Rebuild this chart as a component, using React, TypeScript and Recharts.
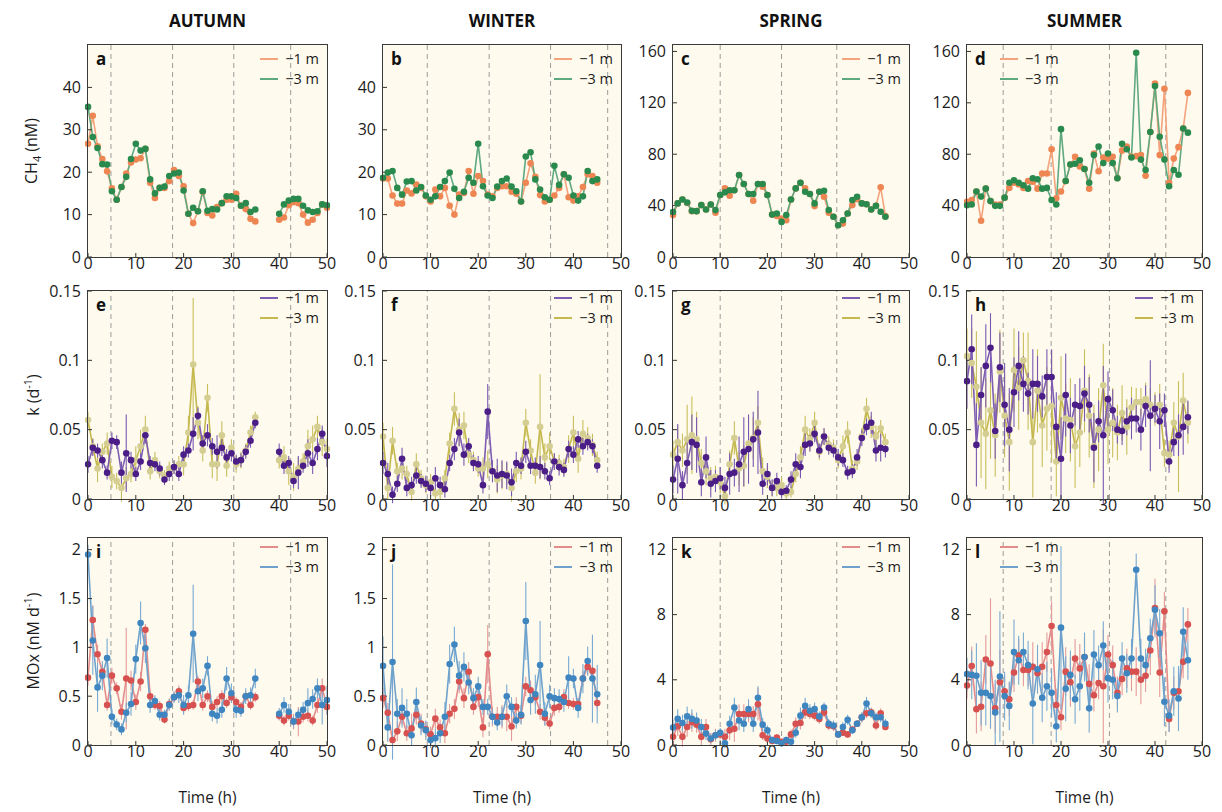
import React from "react";
import { LineChart, Line, XAxis, YAxis, ReferenceLine, ErrorBar } from "recharts";

const FONT = '"Open Sans", "Liberation Sans", sans-serif';

// ---- time axes (h) ----
const timeAutumn = [
  0, 1, 2, 3, 4, 5, 6, 7, 8, 9,
  10, 11, 12, 13, 14, 15, 16, 17, 18, 19,
  20, 21, 22, 23, 24, 25, 26, 27, 28, 29,
  30, 31, 32, 33, 34, 35, 36, 37, 38, 39,
  40, 41, 42, 43, 44, 45, 46, 47, 48, 49, 50,
];
const timeWinter = [
  0, 1, 2, 3, 4, 5, 6, 7, 8, 9,
  10, 11, 12, 13, 14, 15, 16, 17, 18, 19,
  20, 21, 22, 23, 24, 25, 26, 27, 28, 29,
  30, 31, 32, 33, 34, 35, 36, 37, 38, 39,
  40, 41, 42, 43, 44, 45,
];
const timeSpring = [
  0, 1, 2, 3, 4, 5, 6, 7, 8, 9,
  10, 11, 12, 13, 14, 15, 16, 17, 18, 19,
  20, 21, 22, 23, 24, 25, 26, 27, 28, 29,
  30, 31, 32, 33, 34, 35, 36, 37, 38, 39,
  40, 41, 42, 43, 44, 45,
];
const timeSummer = [
  0, 1, 2, 3, 4, 5, 6, 7, 8, 9,
  10, 11, 12, 13, 14, 15, 16, 17, 18, 19,
  20, 21, 22, 23, 24, 25, 26, 27, 28, 29,
  30, 31, 32, 33, 34, 35, 36, 37, 38, 39,
  40, 41, 42, 43, 44, 45, 46, 47,
];

// dashed day/night dividers
const divAutumn = [4.8, 17.7, 30.5, 42.4];
const divWinter = [9.3, 22.3, 35.2, 47.2];
const divSpring = [10, 23, 34.7];
const divSummer = [7.7, 17.9, 30.3, 42.3];

// ---- CH4 (nM) ----
const ch4Autumn1 = [
  26.7, 33.3, 26.1, 23.1, 20.2, 16.2, 13.5, 16.5, 19.7, 22.3,
  23.0, 23.3, 25.5, 17.5, 13.9, 16.3, 16.3, 17.9, 20.5, 19.1,
  16.7, 10.2, 8.0, 10.8, 15.4, 10.4, 9.8, 11.8, 12.7, 13.5,
  13.5, 14.9, 12.1, 11.3, 9.0, 8.4, null, null, null, null,
  8.8, 9.3, 12.2, 12.9, 12.7, 10.0, 8.1, 8.8, 10.4, 12.4, 11.6,
];
const ch4Autumn3 = [
  35.4, 28.3, 25.7, 21.9, 21.8, 15.5, 13.5, 16.5, 18.9, 23.1,
  26.7, 25.1, 25.5, 18.3, 15.0, 16.3, 16.6, 19.1, 19.7, 19.9,
  15.7, 10.2, 11.6, 10.8, 15.5, 10.9, 11.3, 11.2, 12.7, 14.3,
  14.3, 13.9, 12.1, 12.7, 10.6, 11.2, null, null, null, null,
  10.2, 12.4, 13.3, 13.7, 13.7, 12.1, 11.0, 10.6, 10.8, 12.4, 12.2,
];
const ch4Winter1 = [
  18.5, 18.5, 14.5, 12.6, 12.6, 15.7, 15.0, 17.1, 16.3, 14.3,
  13.1, 15.9, 14.3, 16.3, 12.1, 10.0, 14.7, 15.1, 20.3, 14.9,
  19.1, 17.9, 14.7, 14.3, 16.3, 16.7, 16.7, 15.4, 14.9, 13.1,
  17.5, 22.1, 18.9, 14.6, 13.1, 13.5, 14.5, 16.3, 19.5, 14.1,
  13.3, 14.3, 16.5, 19.5, 19.1, 17.5,
];
const ch4Winter3 = [
  18.7, 19.9, 20.3, 16.3, 14.7, 17.8, 17.9, 15.7, 16.5, 14.5,
  13.5, 14.3, 16.5, 17.9, 19.9, 16.1, 13.9, 15.4, 18.7, 17.5,
  26.7, 16.7, 14.5, 13.9, 16.6, 17.9, 18.5, 16.6, 15.5, 13.1,
  23.7, 24.7, 18.3, 15.9, 14.1, 13.5, 21.5, 17.0, 19.5, 18.7,
  14.5, 13.3, 14.3, 20.3, 17.9, 18.3,
];
const ch4Spring1 = [
  32.6, 41.7, 44.8, 42.0, 35.7, 35.7, 40.4, 37.0, 40.9, 34.5,
  48.2, 53.4, 47.7, 52.0, 63.8, 56.8, 49.0, 43.8, 56.8, 54.7,
  48.2, 33.0, 32.0, 29.9, 28.6, 44.8, 53.4, 57.8, 53.4, 49.0,
  39.6, 50.8, 46.9, 34.5, 31.3, 24.7, 26.0, 33.9, 40.4, 45.0,
  41.7, 41.1, 37.0, 39.8, 54.2, 31.8,
];
const ch4Spring3 = [
  35.0, 41.7, 44.8, 42.4, 35.9, 35.7, 40.4, 37.0, 40.9, 36.5,
  48.2, 50.3, 52.0, 52.0, 63.8, 56.8, 49.0, 49.0, 56.8, 56.8,
  48.2, 33.0, 33.9, 27.3, 32.6, 44.8, 53.4, 57.8, 50.8, 49.0,
  41.7, 50.8, 51.6, 36.5, 31.3, 24.7, 28.6, 33.9, 44.3, 46.9,
  41.7, 41.1, 37.0, 39.8, 35.2, 31.3,
];
const ch4Summer1 = [
  43.0, 44.4, 51.0, 28.2, 53.2, 43.5, 40.9, 40.9, 46.2, 53.8,
  57.8, 56.5, 53.8, 59.1, 58.6, 53.2, 65.0, 65.0, 83.9, 45.7,
  51.0, 59.1, 72.0, 78.0, 70.4, 68.5, 53.2, 80.6, 66.7, 77.4,
  76.6, 78.0, 61.3, 82.8, 86.0, 78.0, 78.5, 79.3, 63.2, 97.3,
  135.0, 79.3, 131.0, 57.8, 76.6, 85.5, 100.0, 127.7,
];
const ch4Summer3 = [
  40.3, 40.9, 51.0, 47.0, 53.2, 43.5, 39.8, 39.8, 46.2, 57.8,
  59.7, 57.8, 55.9, 53.2, 61.3, 60.5, 53.2, 53.8, 44.4, 40.9,
  99.5, 59.1, 72.0, 72.6, 75.3, 68.5, 57.8, 79.3, 86.0, 73.1,
  80.6, 73.1, 61.3, 88.2, 83.9, 77.4, 159.0, 75.8, 67.7, 97.3,
  133.0, 93.5, 75.8, 55.1, 67.7, 64.0, 100.0, 96.8,
];

// ---- k (d-1) ----
const kAutumn1 = [
  0.025, 0.037, 0.035, 0.028, 0.019, 0.042, 0.041, 0.019, 0.033, 0.028,
  0.018, 0.027, 0.046, 0.026, 0.025, 0.022, 0.014, 0.018, 0.023, 0.018,
  0.032, 0.035, 0.047, 0.060, 0.040, 0.046, 0.038, 0.034, 0.037, 0.030,
  0.033, 0.027, 0.028, 0.034, 0.042, 0.055, null, null, null, null,
  0.034, 0.024, 0.026, 0.013, 0.019, 0.024, 0.033, 0.026, 0.036, 0.047, 0.031,
];
const kAutumn1Err = [
  0.006, 0.006, 0.005, 0.006, 0.005, 0.006, 0.005, 0.008, 0.028, 0.006,
  0.005, 0.006, 0.006, 0.005, 0.005, 0.005, 0.004, 0.005, 0.005, 0.005,
  0.006, 0.005, 0.012, 0.006, 0.006, 0.008, 0.006, 0.012, 0.006, 0.006,
  0.006, 0.005, 0.005, 0.005, 0.005, 0.004, null, null, null, null,
  0.006, 0.006, 0.005, 0.005, 0.012, 0.005, 0.010, 0.008, 0.008, 0.006, 0.008,
];
const kAutumn3 = [
  0.057, 0.038, 0.022, 0.034, 0.040, 0.016, 0.013, 0.008, 0.015, 0.018,
  0.028, 0.038, 0.050, 0.020, 0.028, 0.020, 0.017, 0.022, 0.023, 0.025,
  0.025, 0.048, 0.097, 0.055, 0.035, 0.073, 0.025, 0.025, 0.046, 0.024,
  0.037, 0.025, 0.028, 0.035, 0.048, 0.059, null, null, null, null,
  0.028, 0.030, 0.020, 0.016, 0.022, 0.027, 0.038, 0.043, 0.052, 0.041, 0.036,
];
const kAutumn3Err = [
  0.006, 0.006, 0.010, 0.006, 0.008, 0.008, 0.006, 0.010, 0.008, 0.006,
  0.010, 0.012, 0.010, 0.006, 0.006, 0.005, 0.004, 0.005, 0.005, 0.006,
  0.008, 0.012, 0.048, 0.012, 0.008, 0.010, 0.010, 0.012, 0.010, 0.008,
  0.006, 0.006, 0.006, 0.005, 0.005, 0.004, null, null, null, null,
  0.006, 0.008, 0.010, 0.010, 0.008, 0.006, 0.012, 0.010, 0.008, 0.010, 0.008,
];
const kWinter1 = [
  0.026, 0.018, 0.003, 0.011, 0.029, 0.008, 0.010, 0.017, 0.013, 0.011,
  0.008, 0.015, 0.010, 0.007, 0.026, 0.036, 0.048, 0.032, 0.038, 0.026,
  0.025, 0.010, 0.063, 0.020, 0.017, 0.018, 0.017, 0.012, 0.026, 0.024,
  0.034, 0.024, 0.024, 0.023, 0.020, 0.015, 0.027, 0.023, 0.021, 0.036,
  0.032, 0.043, 0.038, 0.041, 0.038, 0.024,
];
const kWinter1Err = [
  0.008, 0.008, 0.006, 0.006, 0.008, 0.006, 0.006, 0.006, 0.005, 0.006,
  0.006, 0.008, 0.006, 0.006, 0.006, 0.008, 0.010, 0.008, 0.006, 0.006,
  0.006, 0.006, 0.020, 0.008, 0.012, 0.010, 0.010, 0.010, 0.008, 0.006,
  0.008, 0.006, 0.006, 0.008, 0.006, 0.005, 0.006, 0.006, 0.005, 0.006,
  0.006, 0.006, 0.006, 0.006, 0.005, 0.005,
];
const kWinter3 = [
  0.045, 0.008, 0.042, 0.020, 0.022, 0.018, 0.005, 0.025, 0.015, 0.010,
  0.012, 0.004, 0.005, 0.015, 0.040, 0.065, 0.050, 0.053, 0.032, 0.028,
  0.022, 0.022, 0.025, 0.020, 0.014, 0.017, 0.018, 0.008, 0.020, 0.022,
  0.055, 0.035, 0.019, 0.052, 0.030, 0.038, 0.027, 0.026, 0.023, 0.036,
  0.048, 0.029, 0.047, 0.044, 0.039, 0.028,
];
const kWinter3Err = [
  0.010, 0.008, 0.010, 0.006, 0.008, 0.006, 0.006, 0.008, 0.006, 0.006,
  0.006, 0.004, 0.005, 0.006, 0.008, 0.012, 0.012, 0.010, 0.006, 0.006,
  0.006, 0.008, 0.010, 0.006, 0.010, 0.010, 0.008, 0.010, 0.008, 0.008,
  0.010, 0.008, 0.008, 0.038, 0.010, 0.010, 0.006, 0.006, 0.006, 0.010,
  0.012, 0.010, 0.010, 0.008, 0.008, 0.006,
];
const kSpring1 = [
  0.014, 0.029, 0.010, 0.026, 0.041, 0.039, 0.012, 0.030, 0.011, 0.013,
  0.015, 0.008, 0.018, 0.019, 0.025, 0.034, 0.036, 0.043, 0.048, 0.011,
  0.018, 0.008, 0.013, 0.005, 0.006, 0.014, 0.025, 0.023, 0.039, 0.040,
  0.047, 0.035, 0.045, 0.037, 0.035, 0.030, 0.028, 0.019, 0.020, 0.030,
  0.044, 0.052, 0.055, 0.035, 0.037, 0.036,
];
const kSpring1Err = [
  0.010, 0.025, 0.010, 0.015, 0.020, 0.020, 0.010, 0.015, 0.010, 0.008,
  0.008, 0.008, 0.015, 0.010, 0.020, 0.025, 0.025, 0.020, 0.030, 0.008,
  0.008, 0.006, 0.006, 0.004, 0.004, 0.006, 0.008, 0.008, 0.008, 0.006,
  0.006, 0.005, 0.006, 0.005, 0.005, 0.006, 0.005, 0.005, 0.005, 0.006,
  0.006, 0.006, 0.008, 0.008, 0.010, 0.006,
];
const kSpring3 = [
  0.032, 0.041, 0.035, 0.043, 0.046, 0.043, 0.026, 0.020, 0.015, 0.016,
  0.012, 0.002, 0.025, 0.044, 0.022, 0.024, 0.040, 0.044, 0.055, 0.020,
  0.016, 0.008, 0.008, 0.010, 0.004, 0.005, 0.018, 0.030, 0.050, 0.043,
  0.055, 0.034, 0.045, 0.039, 0.037, 0.028, 0.038, 0.048, 0.022, 0.027,
  0.045, 0.065, 0.052, 0.045, 0.051, 0.041,
];
const kSpring3Err = [
  0.010, 0.012, 0.012, 0.025, 0.028, 0.020, 0.010, 0.010, 0.008, 0.008,
  0.008, 0.006, 0.010, 0.012, 0.012, 0.015, 0.020, 0.015, 0.012, 0.010,
  0.008, 0.006, 0.006, 0.006, 0.004, 0.004, 0.006, 0.008, 0.010, 0.008,
  0.008, 0.006, 0.006, 0.006, 0.006, 0.006, 0.008, 0.008, 0.006, 0.006,
  0.006, 0.008, 0.008, 0.008, 0.006, 0.006,
];
const kSummer1 = [
  0.085, 0.108, 0.039, 0.075, 0.096, 0.109, 0.049, 0.095, 0.068, 0.050,
  0.077, 0.096, 0.083, 0.076, 0.083, 0.083, 0.074, 0.088, 0.088, 0.052,
  0.029, 0.075, 0.053, 0.068, 0.067, 0.076, 0.068, 0.037, 0.056, 0.046,
  0.072, 0.064, 0.050, 0.049, 0.056, 0.058, 0.058, 0.050, 0.067, 0.060,
  0.065, 0.056, 0.064, 0.027, 0.041, 0.046, 0.052, 0.059,
];
const kSummer1Err = [
  0.020, 0.025, 0.030, 0.020, 0.030, 0.025, 0.020, 0.025, 0.030, 0.030,
  0.025, 0.025, 0.020, 0.015, 0.025, 0.020, 0.015, 0.020, 0.020, 0.025,
  0.030, 0.030, 0.020, 0.015, 0.020, 0.020, 0.020, 0.025, 0.015, 0.050,
  0.020, 0.015, 0.010, 0.010, 0.010, 0.015, 0.010, 0.015, 0.015, 0.040,
  0.010, 0.020, 0.012, 0.008, 0.010, 0.015, 0.020, 0.012,
];
const kSummer3 = [
  0.103, 0.098, 0.081, 0.055, 0.047, 0.064, 0.046, 0.092, 0.060, 0.041,
  0.093, 0.080, 0.100, 0.085, 0.041, 0.078, 0.053, 0.065, 0.067, 0.027,
  0.073, 0.058, 0.057, 0.038, 0.048, 0.078, 0.060, 0.038, 0.050, 0.082,
  0.050, 0.055, 0.048, 0.062, 0.052, 0.066, 0.070, 0.070, 0.072, 0.068,
  0.065, 0.068, 0.033, 0.032, 0.055, 0.045, 0.071, 0.055,
];
const kSummer3Err = [
  0.020, 0.025, 0.040, 0.040, 0.040, 0.035, 0.030, 0.030, 0.030, 0.035,
  0.030, 0.030, 0.020, 0.035, 0.040, 0.030, 0.030, 0.030, 0.040, 0.025,
  0.030, 0.025, 0.030, 0.030, 0.025, 0.030, 0.030, 0.030, 0.030, 0.030,
  0.025, 0.025, 0.020, 0.020, 0.020, 0.015, 0.010, 0.010, 0.012, 0.012,
  0.012, 0.015, 0.010, 0.010, 0.015, 0.040, 0.020, 0.015,
];

// ---- MOx (nM d-1) ----
const moxAutumn1 = [
  0.69, 1.28, 0.93, 0.75, 0.41, 0.71, 0.58, 0.34, 0.68, 0.66,
  0.44, 0.65, 1.18, 0.50, 0.41, 0.40, 0.26, 0.42, 0.49, 0.55,
  0.38, 0.40, 0.41, 0.65, 0.41, 0.50, 0.39, 0.44, 0.50, 0.43,
  0.49, 0.44, 0.39, 0.50, 0.41, 0.49, null, null, null, null,
  0.30, 0.25, 0.30, 0.24, 0.24, 0.29, 0.30, 0.25, 0.41, 0.58, 0.39,
];
const moxAutumn1Err = [
  0.08, 0.15, 0.10, 0.08, 0.06, 0.08, 0.06, 0.08, 0.52, 0.10,
  0.08, 0.10, 0.06, 0.06, 0.05, 0.05, 0.04, 0.06, 0.05, 0.06,
  0.05, 0.05, 0.05, 0.06, 0.06, 0.06, 0.06, 0.06, 0.06, 0.05,
  0.06, 0.05, 0.05, 0.05, 0.05, 0.05, null, null, null, null,
  0.05, 0.05, 0.05, 0.08, 0.15, 0.06, 0.06, 0.05, 0.08, 0.10, 0.08,
];
const moxAutumn3 = [
  1.95, 1.07, 0.59, 0.71, 0.89, 0.29, 0.21, 0.16, 0.33, 0.42,
  0.88, 1.25, 0.99, 0.41, 0.45, 0.31, 0.31, 0.41, 0.49, 0.51,
  0.41, 0.51, 1.14, 0.55, 0.58, 0.81, 0.32, 0.30, 0.36, 0.68,
  0.53, 0.36, 0.35, 0.50, 0.51, 0.68, null, null, null, null,
  0.32, 0.41, 0.34, 0.24, 0.31, 0.36, 0.43, 0.47, 0.58, 0.41, 0.46,
];
const moxAutumn3Err = [
  0.10, 0.35, 0.25, 0.15, 0.20, 0.08, 0.06, 0.06, 0.10, 0.12,
  0.15, 0.22, 0.15, 0.08, 0.06, 0.06, 0.05, 0.06, 0.06, 0.08,
  0.10, 0.10, 0.50, 0.10, 0.10, 0.10, 0.08, 0.08, 0.08, 0.12,
  0.10, 0.08, 0.06, 0.08, 0.08, 0.10, null, null, null, null,
  0.06, 0.08, 0.08, 0.06, 0.06, 0.08, 0.15, 0.10, 0.10, 0.20, 0.15,
];
const moxWinter1 = [
  0.48, 0.33, 0.05, 0.14, 0.29, 0.12, 0.17, 0.31, 0.22, 0.16,
  0.11, 0.27, 0.18, 0.12, 0.32, 0.37, 0.65, 0.48, 0.75, 0.39,
  0.49, 0.18, 0.93, 0.29, 0.29, 0.29, 0.29, 0.19, 0.39, 0.30,
  0.60, 0.56, 0.49, 0.34, 0.28, 0.22, 0.38, 0.39, 0.49, 0.43,
  0.42, 0.42, 0.68, 0.80, 0.76, 0.43,
];
const moxWinter1Err = [
  0.10, 0.10, 0.06, 0.10, 0.08, 0.08, 0.15, 0.10, 0.10, 0.08,
  0.08, 0.10, 0.08, 0.10, 0.10, 0.10, 0.12, 0.10, 0.10, 0.08,
  0.10, 0.10, 0.30, 0.10, 0.10, 0.12, 0.15, 0.15, 0.10, 0.08,
  0.10, 0.10, 0.08, 0.08, 0.08, 0.06, 0.08, 0.06, 0.08, 0.06,
  0.06, 0.06, 0.08, 0.08, 0.08, 0.06,
];
const moxWinter3 = [
  0.81, 0.18, 0.85, 0.32, 0.38, 0.32, 0.10, 0.44, 0.20, 0.15,
  0.05, 0.07, 0.12, 0.29, 0.83, 1.03, 0.71, 0.80, 0.64, 0.48,
  0.60, 0.39, 0.39, 0.29, 0.23, 0.29, 0.50, 0.39, 0.25, 0.31,
  1.27, 0.46, 0.52, 0.82, 0.32, 0.50, 0.48, 0.47, 0.44, 0.69,
  0.68, 0.38, 0.68, 0.86, 0.68, 0.52,
];
const moxWinter3Err = [
  0.30, 0.15, 1.00, 0.15, 0.20, 0.15, 0.10, 0.15, 0.10, 0.10,
  0.08, 0.10, 0.10, 0.15, 0.20, 0.18, 0.15, 0.15, 0.12, 0.10,
  0.10, 0.08, 0.08, 0.08, 0.08, 0.10, 0.12, 0.10, 0.08, 0.10,
  0.40, 0.15, 0.20, 0.45, 0.12, 0.12, 0.10, 0.10, 0.10, 0.22,
  0.10, 0.10, 0.15, 0.15, 0.45, 0.30,
];
const moxSpring1 = [
  0.5, 1.15, 0.5, 1.1, 1.4, 1.25, 0.5, 1.1, 0.35, 0.6,
  0.65, 0.5, 0.9, 1.0, 1.9, 1.9, 1.9, 1.9, 2.5, 0.6,
  0.4, 0.25, 0.45, 0.2, 0.2, 0.65, 1.3, 1.35, 2.0, 1.9,
  1.8, 1.6, 2.0, 1.2, 1.15, 0.65, 0.75, 0.65, 0.95, 1.3,
  1.7, 1.95, 2.0, 1.2, 1.95, 1.1,
];
const moxSpring1Err = [
  0.5, 0.6, 0.6, 0.6, 0.6, 0.5, 0.5, 0.5, 0.4, 0.4,
  0.3, 0.5, 0.6, 0.8, 0.6, 0.6, 0.5, 0.5, 1.0, 0.3,
  0.3, 0.2, 0.2, 0.2, 0.2, 0.3, 0.4, 0.4, 0.4, 0.3,
  0.3, 0.3, 0.3, 0.3, 0.3, 0.2, 0.2, 0.2, 0.2, 0.2,
  0.3, 0.3, 0.3, 0.3, 0.3, 0.2,
];
const moxSpring3 = [
  1.07, 1.6, 1.35, 1.76, 1.6, 1.5, 1.1, 0.7, 0.4, 0.6,
  0.75, 0.1, 1.3, 2.3, 1.5, 1.3, 2.2, 1.3, 2.9, 1.25,
  0.9, 0.3, 0.25, 0.1, 0.3, 0.2, 0.75, 1.8, 2.4, 2.1,
  2.2, 1.75, 2.3, 1.3, 1.2, 0.65, 1.1, 1.55, 0.9, 1.3,
  1.7, 2.55, 1.95, 1.7, 1.7, 1.3,
];
const moxSpring3Err = [
  0.5, 0.6, 0.5, 0.6, 0.6, 0.5, 0.5, 0.4, 0.3, 0.3,
  0.3, 0.3, 0.5, 0.6, 0.6, 0.5, 0.6, 0.5, 0.7, 0.4,
  0.3, 0.2, 0.2, 0.2, 0.2, 0.2, 0.3, 0.5, 0.5, 0.4,
  0.4, 0.3, 0.3, 0.3, 0.3, 0.2, 0.3, 0.3, 0.2, 0.2,
  0.3, 0.4, 0.3, 0.3, 0.3, 0.3,
];
const moxSummer1 = [
  3.65, 4.85, 2.2, 2.35, 5.25, 5.0, 2.25, 3.85, 3.3, 2.8,
  4.45, 5.5, 4.6, 4.6, 4.8, 4.4, 4.8, 5.7, 7.3, 2.45,
  1.7, 4.5, 3.85, 5.3, 4.7, 5.4, 3.75, 3.05, 3.8, 3.6,
  5.55, 4.9, 3.2, 4.05, 4.7, 4.5, 4.5, 4.0, 4.25, 5.8,
  8.4, 4.45, 8.2, 1.6, 3.2, 3.3, 5.1, 7.4,
];
const moxSummer1Err = [
  0.8, 1.2, 1.5, 1.5, 1.5, 4.0, 1.5, 2.0, 1.0, 1.0,
  1.2, 1.0, 1.0, 1.0, 1.5, 1.2, 1.5, 1.2, 1.5, 1.0,
  0.8, 1.5, 1.5, 1.2, 1.5, 1.2, 1.2, 1.0, 1.0, 3.5,
  1.2, 1.2, 1.0, 1.0, 1.2, 1.2, 1.5, 1.5, 1.0, 1.5,
  1.8, 1.5, 1.2, 0.8, 1.0, 1.0, 1.0, 1.0,
];
const moxSummer3 = [
  4.35, 4.3, 4.25, 3.2, 3.2, 3.0, 2.0, 4.2, 3.0, 2.4,
  5.7, 5.2, 5.7, 4.9, 2.55, 4.65, 2.9, 3.6, 3.2, 1.15,
  7.2, 3.45, 4.3, 2.8, 3.6, 5.4, 2.25, 5.55, 4.9, 6.1,
  4.1, 4.0, 3.0, 5.3, 4.4, 5.3, 10.75, 5.3, 4.9, 6.55,
  8.3, 6.85, 2.65, 1.8, 3.3, 2.85, 6.95, 5.2,
];
const moxSummer3Err = [
  1.0, 1.5, 2.0, 2.0, 2.0, 2.0, 2.0, 4.0, 1.5, 1.5,
  2.0, 1.5, 1.2, 1.5, 2.5, 1.5, 1.5, 1.5, 1.5, 1.0,
  5.0, 2.0, 1.5, 1.5, 1.5, 1.5, 1.5, 1.5, 1.2, 1.5,
  1.5, 1.2, 1.0, 1.0, 1.2, 1.2, 1.0, 1.2, 1.0, 1.2,
  1.5, 1.5, 1.5, 1.0, 1.5, 2.0, 1.5, 1.2,
];

// ---- axes ----
const xTicks = [0, 10, 20, 30, 40, 50];
const ticksCh4Low = [0, 10, 20, 30, 40];
const ticksCh4High = [0, 40, 80, 120, 160];
const ticksK = [0, 0.05, 0.1, 0.15];
const ticksMoxLow = [0, 0.5, 1, 1.5, 2];
const ticksMoxHigh = [0, 4, 8, 12];

const seasons = ["AUTUMN", "WINTER", "SPRING", "SUMMER"];
const legendLabels = ["\u22121 m", "\u22123 m"];

// ---- layout ----
const COLS = [
  { left: 88, right: 327 },
  { left: 383, right: 621 },
  { left: 673, right: 909 },
  { left: 967, right: 1202 },
];
const ROWS = [
  { top: 45, bottom: 257, legendY: 49 },
  { top: 291, bottom: 499, legendY: 288 },
  { top: 538, bottom: 745, legendY: 537 },
];
const STYLES = [
  {
    s1: { line: "#F4A37C", dot: "#EE8653", err: "#F4A37C" },
    s3: { line: "#5FA97F", dot: "#2A8A4E", err: "#5FA97F" },
    topFirst: false,
  },
  {
    s1: { line: "#7E5DB3", dot: "#4B1E87", err: "#7A58B2" },
    s3: { line: "#C5B84E", dot: "#D5CE92", err: "#C9BE5C" },
    topFirst: true,
  },
  {
    s1: { line: "#E48C8C", dot: "#D6514F", err: "#E49A9A" },
    s3: { line: "#6EA2CD", dot: "#3F86C0", err: "#79A9D2" },
    topFirst: false,
  },
];

const panels = [
  { row: 0, col: 0, letter: "a", times: timeAutumn, s1: ch4Autumn1, s3: ch4Autumn3, yDomain: [0, 50], yTicks: ticksCh4Low, divs: divAutumn },
  { row: 0, col: 1, letter: "b", times: timeWinter, s1: ch4Winter1, s3: ch4Winter3, yDomain: [0, 50], yTicks: ticksCh4Low, divs: divWinter },
  { row: 0, col: 2, letter: "c", times: timeSpring, s1: ch4Spring1, s3: ch4Spring3, yDomain: [0, 165], yTicks: ticksCh4High, divs: divSpring },
  { row: 0, col: 3, letter: "d", times: timeSummer, s1: ch4Summer1, s3: ch4Summer3, yDomain: [0, 165], yTicks: ticksCh4High, divs: divSummer, legendLeft: true },
  { row: 1, col: 0, letter: "e", times: timeAutumn, s1: kAutumn1, s3: kAutumn3, e1: kAutumn1Err, e3: kAutumn3Err, yDomain: [0, 0.15], yTicks: ticksK, divs: divAutumn },
  { row: 1, col: 1, letter: "f", times: timeWinter, s1: kWinter1, s3: kWinter3, e1: kWinter1Err, e3: kWinter3Err, yDomain: [0, 0.15], yTicks: ticksK, divs: divWinter },
  { row: 1, col: 2, letter: "g", times: timeSpring, s1: kSpring1, s3: kSpring3, e1: kSpring1Err, e3: kSpring3Err, yDomain: [0, 0.15], yTicks: ticksK, divs: divSpring },
  { row: 1, col: 3, letter: "h", times: timeSummer, s1: kSummer1, s3: kSummer3, e1: kSummer1Err, e3: kSummer3Err, yDomain: [0, 0.15], yTicks: ticksK, divs: divSummer },
  { row: 2, col: 0, letter: "i", times: timeAutumn, s1: moxAutumn1, s3: moxAutumn3, e1: moxAutumn1Err, e3: moxAutumn3Err, yDomain: [0, 2.12], yTicks: ticksMoxLow, divs: divAutumn },
  { row: 2, col: 1, letter: "j", times: timeWinter, s1: moxWinter1, s3: moxWinter3, e1: moxWinter1Err, e3: moxWinter3Err, yDomain: [0, 2.12], yTicks: ticksMoxLow, divs: divWinter },
  { row: 2, col: 2, letter: "k", times: timeSpring, s1: moxSpring1, s3: moxSpring3, e1: moxSpring1Err, e3: moxSpring3Err, yDomain: [0, 12.7], yTicks: ticksMoxHigh, divs: divSpring },
  { row: 2, col: 3, letter: "l", times: timeSummer, s1: moxSummer1, s3: moxSummer3, e1: moxSummer1Err, e3: moxSummer3Err, yDomain: [0, 12.7], yTicks: ticksMoxHigh, divs: divSummer, legendLeft: true },
];

const ML = 56;
const MR = 12;
const MT = 16;
const MB = 28;
const tickStyle = { fill: "#1c1c1c", fontSize: 16, fontFamily: FONT };

function Legend({ x, y, colors, alignLeft }) {
  return (
    <div style={{ position: "absolute", left: alignLeft ? x : x - 80, top: y, width: 80, fontSize: 14.5, lineHeight: "20px", color: "#1c1c1c" }}>
      {legendLabels.map((lab, i) => (
        <div key={lab} style={{ display: "flex", alignItems: "center", height: 20, justifyContent: alignLeft ? "flex-start" : "flex-end" }}>
          <span style={{ display: "inline-block", width: 18, height: 2.5, background: colors[i], marginRight: 7 }} />
          <span>{lab}</span>
        </div>
      ))}
    </div>
  );
}

function Panel({ p }) {
  const row = ROWS[p.row];
  const col = COLS[p.col];
  const st = STYLES[p.row];
  const pw = col.right - col.left;
  const ph = row.bottom - row.top;
  const data = p.times.map((t, i) => ({
    t,
    v1: p.s1[i],
    v3: p.s3[i],
    e1: p.e1 ? p.e1[i] : null,
    e3: p.e3 ? p.e3[i] : null,
  }));

  const mkLine = (key, errKey, c, hasErr) => (
    <Line
      key={key}
      type="linear"
      dataKey={key}
      stroke={c.line}
      strokeWidth={1.6}
      dot={{ r: 3.3, fill: c.dot, stroke: c.dot, strokeWidth: 0, clipDot: false }}
      activeDot={false}
      connectNulls={false}
      isAnimationActive={false}
    >
      {hasErr && (
        <ErrorBar dataKey={errKey} direction="y" width={0} stroke={c.err} strokeWidth={1.1} isAnimationActive={false} />
      )}
    </Line>
  );

  const hasErr = !!p.e1;
  const l1 = mkLine("v1", "e1", st.s1, hasErr);
  const l3 = mkLine("v3", "e3", st.s3, hasErr);
  const fmt = (v) => String(v);

  return (
    <>
      <div style={{ position: "absolute", left: col.left, top: row.top, width: pw, height: ph, background: "#FEFBEE" }} />
      <div style={{ position: "absolute", left: col.left - ML, top: row.top - MT }}>
        <LineChart width={pw + ML + MR} height={ph + MT + MB} data={data} margin={{ top: MT, right: MR, left: 0, bottom: 0 }}>
          <XAxis
            dataKey="t"
            type="number"
            domain={[0, 50]}
            ticks={xTicks}
            interval={0}
            height={MB}
            axisLine={false}
            tickLine={{ stroke: "#333" }}
            tickSize={-4}
            tickMargin={5}
            tick={tickStyle}
          />
          <YAxis
            type="number"
            domain={p.yDomain}
            ticks={p.yTicks}
            interval={0}
            width={ML}
            allowDataOverflow
            axisLine={false}
            tickLine={{ stroke: "#333" }}
            tickSize={-4}
            tickMargin={11}
            tick={tickStyle}
            tickFormatter={fmt}
          />
          {p.divs.map((d) => (
            <ReferenceLine key={d} x={d} stroke="#9b9b9b" strokeDasharray="5 4" strokeWidth={1} />
          ))}
          {st.topFirst ? l3 : l1}
          {st.topFirst ? l1 : l3}
        </LineChart>
      </div>
      <div
        style={{
          position: "absolute",
          left: col.left - 1,
          top: row.top - 1,
          width: pw + 2,
          height: ph + 2,
          border: "1.6px solid #3a3a3a",
          boxSizing: "border-box",
          pointerEvents: "none",
        }}
      />
      <div style={{ position: "absolute", left: col.left + 8, top: row.top + 2, fontSize: 17, fontWeight: 700, color: "#111" }}>
        {p.letter}
      </div>
      <Legend
        x={p.legendLeft ? col.left + 33 : col.right - 8}
        y={row.legendY}
        alignLeft={!!p.legendLeft}
        colors={[st.s1.line, st.s3.line]}
      />
    </>
  );
}

function YLabel({ y, children }) {
  return (
    <div
      style={{
        position: "absolute",
        left: 32,
        top: y,
        transform: "translate(-50%, -50%) rotate(-90deg)",
        whiteSpace: "nowrap",
        fontSize: 16,
        color: "#1c1c1c",
      }}
    >
      {children}
    </div>
  );
}

export default function App() {
  return (
    <div style={{ position: "absolute", left: 0, top: 0, width: 1222, height: 812, background: "#fff", fontFamily: FONT, overflow: "hidden" }}>
      {seasons.map((s, i) => (
        <div
          key={s}
          style={{
            position: "absolute",
            left: (COLS[i].left + COLS[i].right) / 2 - 100,
            width: 200,
            top: 9,
            textAlign: "center",
            fontSize: 17,
            fontWeight: 700,
            color: "#111",
          }}
        >
          {s}
        </div>
      ))}
      {seasons.map((s, i) => (
        <div
          key={"t" + s}
          style={{
            position: "absolute",
            left: (COLS[i].left + COLS[i].right) / 2 - 100,
            width: 200,
            top: 786,
            textAlign: "center",
            fontSize: 15.5,
            color: "#1c1c1c",
          }}
        >
          Time (h)
        </div>
      ))}
      <YLabel y={151}>
        CH<sub style={{ fontSize: 11 }}>4</sub> (nM)
      </YLabel>
      <YLabel y={395}>
        k (d<sup style={{ fontSize: 11 }}>-1</sup>)
      </YLabel>
      <YLabel y={641}>
        MOx (nM d<sup style={{ fontSize: 11 }}>-1</sup>)
      </YLabel>
      {panels.map((p) => (
        <Panel key={p.letter} p={p} />
      ))}
    </div>
  );
}
